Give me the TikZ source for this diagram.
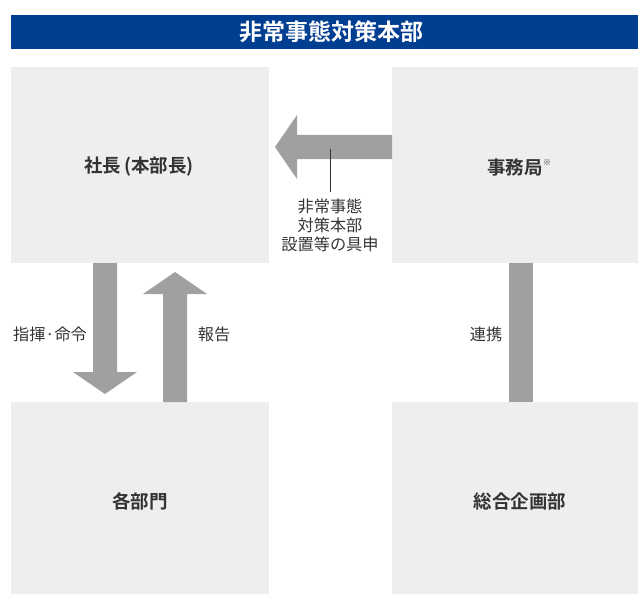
\documentclass[tikz,border=0pt]{standalone}
\usepackage{fontspec}
\setmainfont{Noto Sans CJK JP}[BoldFont={Noto Sans CJK JP Bold}]
\definecolor{hdrblue}{HTML}{003E92}
\definecolor{boxgray}{HTML}{EEEEEE}
\definecolor{arrgray}{HTML}{9FA0A0}
\definecolor{txt}{HTML}{333333}
\tikzset{
  boxlabel/.style={font=\fontsize{18.5}{20}\selectfont\bfseries, text=txt, inner sep=0pt},
  small/.style={font=\fontsize{16.2}{18.6}\selectfont, text=txt, inner sep=0pt, align=center},
}
\begin{document}
\begin{tikzpicture}[x=1pt,y=-1pt]
\useasboundingbox (0,0) rectangle (638,594);
% header
\fill[hdrblue] (11,15) rectangle (638,49);
\node[font=\fontsize{23}{24}\selectfont\bfseries, text=white, inner sep=0pt] (hdr) at (331,32) {非常事態対策本部};
% boxes
\fill[boxgray] (11,67) rectangle (269,263);
\fill[boxgray] (392,67) rectangle (638,263);
\fill[boxgray] (11,402) rectangle (269,594);
\fill[boxgray] (392,402) rectangle (638,594);
\node[boxlabel] (pres) at (139,167) {社長\hspace{3pt}(本部長)};
\node[boxlabel] (sec) at (515,167) {事務局};
\node[font=\fontsize{8}{8}\selectfont, text=txt, inner sep=0pt, anchor=north west] (mark) at ([xshift=0pt,yshift=-1pt]sec.north east) {※};
\node[boxlabel] (dept) at (140,501) {各部門};
\node[boxlabel] (plan) at (520,501) {総合企画部};
% horizontal arrow
\fill[arrgray] (392,135) -- (297,135) -- (297,115) -- (275,147) -- (297,179) -- (297,159) -- (392,159) -- cycle;
% down arrow
\fill[arrgray] (93,263) -- (117,263) -- (117,372) -- (137,372) -- (105,394) -- (73,372) -- (93,372) -- cycle;
% up arrow
\fill[arrgray] (163,402) -- (187,402) -- (187,294) -- (207,294) -- (175,272) -- (143,294) -- (163,294) -- cycle;
% connector bar
\fill[arrgray] (509,263) rectangle (533,402);
% labels
\coordinate (lead) at (330,149);
\node[small, anchor=north] (req) at (330,199) {非常事態\\対策本部\\設置等の具申};
\draw[txt, line width=0.8pt] (lead) -- (330,192);
\node[small] (cmd) at (50,334) {指揮·命令};
\node[small] (rep) at (214,334) {報告};
\node[small] (coop) at (486,334) {連携};
\end{tikzpicture}
\end{document}
